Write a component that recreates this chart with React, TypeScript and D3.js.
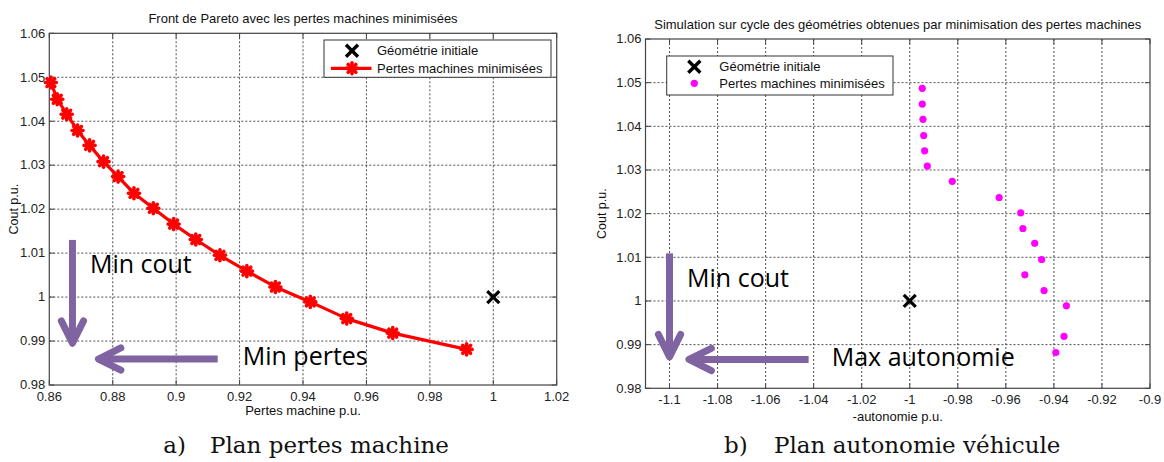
import React from "react";
import * as d3 from "d3";

// ---- Data ----
const leftX = [0.8605, 0.8625, 0.8655, 0.8689, 0.8727, 0.8771, 0.8817, 0.8867, 0.8928, 0.8992, 0.9062, 0.9138, 0.9223, 0.9313, 0.9423, 0.9538, 0.9683, 0.9916];
const leftY = [1.0488, 1.045, 1.0416, 1.0379, 1.0345, 1.0308, 1.0274, 1.0236, 1.0202, 1.0166, 1.0131, 1.0095, 1.0059, 1.0023, 0.9989, 0.9951, 0.9918, 0.9881];
const rightX = [-0.9948, -0.9948, -0.9945, -0.9942, -0.9938, -0.9927, -0.9823, -0.9628, -0.9538, -0.9529, -0.948, -0.9451, -0.9521, -0.9441, -0.9348, -0.9358, -0.9392];
const rightY = [1.0487, 1.0451, 1.0416, 1.0379, 1.0344, 1.0309, 1.0274, 1.0237, 1.0202, 1.0166, 1.0132, 1.0095, 1.006, 1.0024, 0.9989, 0.9919, 0.9882];
const initialLeft = [1.0, 1.0];
const initialRight = [-1.0, 1.0];

const leftXTicks = [0.86, 0.88, 0.9, 0.92, 0.94, 0.96, 0.98, 1, 1.02];
const rightXTicks = [-1.1, -1.08, -1.06, -1.04, -1.02, -1, -0.98, -0.96, -0.94, -0.92, -0.9];
const yTicks = [0.98, 0.99, 1, 1.01, 1.02, 1.03, 1.04, 1.05, 1.06];

const legendLabels = ["Géométrie initiale", "Pertes machines minimisées"];

// annotation arrows in data units: [x1, y1, x2(tip), y2(tip)]
const leftArrows = [
  [0.8673, 1.013, 0.8673, 0.9895],
  [0.9131, 0.9859, 0.8755, 0.9859],
];
const rightArrows = [
  [-1.1, 1.0109, -1.1, 0.9872],
  [-1.0421, 0.9866, -1.0919, 0.9866],
];
const leftNotes: [string, number, number][] = [
  ["Min cout", 0.8728, 1.0054],
  ["Min pertes", 0.921, 0.9845],
];
const rightNotes: [string, number, number][] = [
  ["Min cout", -1.0927, 1.0033],
  ["Max autonomie", -1.0325, 0.9852],
];

const SANS = "'Liberation Sans', Arial, sans-serif";
const PURPLE = "#8064A2";

function Arrow({ x1, y1, x2, y2 }: { x1: number; y1: number; x2: number; y2: number }) {
  const ang = Math.atan2(y2 - y1, x2 - x1);
  const L = 25;
  const spread = 0.46;
  const w1x = x2 - L * Math.cos(ang - spread);
  const w1y = y2 - L * Math.sin(ang - spread);
  const w2x = x2 - L * Math.cos(ang + spread);
  const w2y = y2 - L * Math.sin(ang + spread);
  return (
    <g stroke={PURPLE} strokeWidth={7} strokeLinecap="round" fill="none">
      <line x1={x1} y1={y1} x2={x2} y2={y2} strokeLinecap="butt" />
      <polyline points={`${w1x},${w1y} ${x2},${y2} ${w2x},${w2y}`} strokeLinejoin="round" />
    </g>
  );
}

function XMark({ x, y, r = 6, w = 3.2 }: { x: number; y: number; r?: number; w?: number }) {
  return (
    <g stroke="#000" strokeWidth={w}>
      <line x1={x - r} y1={y - r} x2={x + r} y2={y + r} />
      <line x1={x - r} y1={y + r} x2={x + r} y2={y - r} />
    </g>
  );
}

function Star({ x, y, r = 5.5 }: { x: number; y: number; r?: number }) {
  const d = r * 0.7071;
  return (
    <g stroke="#ff0000" strokeWidth={3.6} strokeLinecap="round">
      <line x1={x - r} y1={y} x2={x + r} y2={y} />
      <line x1={x} y1={y - r} x2={x} y2={y + r} />
      <line x1={x - d} y1={y - d} x2={x + d} y2={y + d} />
      <line x1={x - d} y1={y + d} x2={x + d} y2={y - d} />
      <circle cx={x} cy={y} r={3.5} fill="#ff0000" stroke="none" />
    </g>
  );
}

function Frame({
  x,
  y,
  xTicks,
  title,
  titleY,
  xLabel,
  xLabelY,
  yLabelX,
}: {
  x: d3.ScaleLinear<number, number>;
  y: d3.ScaleLinear<number, number>;
  xTicks: number[];
  title: string;
  titleY: number;
  xLabel: string;
  xLabelY: number;
  yLabelX: number;
}) {
  const [x0, x1] = x.range();
  const [y0, y1] = y.range(); // y0 bottom, y1 top
  const xd = x.domain();
  const yd = y.domain();
  const innerX = xTicks.filter((t) => Math.abs(t - xd[0]) > 1e-9 && Math.abs(t - xd[1]) > 1e-9);
  const innerY = yTicks.filter((t) => Math.abs(t - yd[0]) > 1e-9 && Math.abs(t - yd[1]) > 1e-9);
  const tl = 5;
  return (
    <g>
      <rect x={x0} y={y1} width={x1 - x0} height={y0 - y1} fill="#fff" />
      {innerX.map((t) => (
        <line key={"gx" + t} x1={x(t)} x2={x(t)} y1={y1} y2={y0} stroke="#222" strokeWidth={0.8} strokeDasharray="2,2" />
      ))}
      {innerY.map((t) => (
        <line key={"gy" + t} x1={x0} x2={x1} y1={y(t)} y2={y(t)} stroke="#222" strokeWidth={0.8} strokeDasharray="2,2" />
      ))}
      {xTicks.map((t) => (
        <g key={"tx" + t}>
          <line x1={x(t)} x2={x(t)} y1={y0} y2={y0 - tl} stroke="#444" strokeWidth={1} />
          <line x1={x(t)} x2={x(t)} y1={y1} y2={y1 + tl} stroke="#444" strokeWidth={1} />
          <text x={x(t)} y={y0 + 16} textAnchor="middle" fontFamily={SANS} fontSize={13} fill="#222">
            {String(t)}
          </text>
        </g>
      ))}
      {yTicks.map((t) => (
        <g key={"ty" + t}>
          <line x1={x0} x2={x0 + tl} y1={y(t)} y2={y(t)} stroke="#444" strokeWidth={1} />
          <line x1={x1} x2={x1 - tl} y1={y(t)} y2={y(t)} stroke="#444" strokeWidth={1} />
          <text x={x0 - 4} y={y(t)} dy="0.33em" textAnchor="end" fontFamily={SANS} fontSize={13} fill="#222">
            {String(t)}
          </text>
        </g>
      ))}
      <rect x={x0} y={y1} width={x1 - x0} height={y0 - y1} fill="none" stroke="#444" strokeWidth={1.2} />
      <text x={(x0 + x1) / 2} y={titleY} textAnchor="middle" fontFamily={SANS} fontSize={13} fill="#111">
        {title}
      </text>
      <text x={(x0 + x1) / 2} y={xLabelY} textAnchor="middle" fontFamily={SANS} fontSize={13} fill="#111">
        {xLabel}
      </text>
      <text
        transform={`translate(${yLabelX},${(y0 + y1) / 2}) rotate(-90)`}
        textAnchor="middle"
        fontFamily={SANS}
        fontSize={12.5}
        fill="#111"
      >
        Cout p.u.
      </text>
    </g>
  );
}

export default function App() {
  const xL = d3.scaleLinear().domain([0.86, 1.02]).range([49.3, 556.7]);
  const yL = d3.scaleLinear().domain([0.98, 1.06]).range([385, 33.3]);
  const xR = d3.scaleLinear().domain([-1.11, -0.9]).range([645.5, 1150]);
  const yR = d3.scaleLinear().domain([0.98, 1.06]).range([388.3, 39]);

  const leftPts = leftX.map((v, i) => [xL(v), yL(leftY[i])] as [number, number]);
  const linePath = d3.line()(leftPts) || "";

  return (
    <svg width={1164} height={462} style={{ position: "absolute", left: 0, top: 0, background: "#fff" }}>
      <rect width={1164} height={462} fill="#fff" />

      {/* ---------- Left panel ---------- */}
      <Frame
        x={xL}
        y={yL}
        xTicks={leftXTicks}
        title="Front de Pareto avec les pertes machines minimisées"
        titleY={23}
        xLabel="Pertes machine p.u."
        xLabelY={415}
        yLabelX={18}
      />
      <path d={linePath} fill="none" stroke="#ff0000" strokeWidth={3.2} strokeLinejoin="round" />
      {leftPts.map(([px, py], i) => (
        <Star key={"s" + i} x={px} y={py} />
      ))}
      <XMark x={xL(initialLeft[0])} y={yL(initialLeft[1])} />
      {leftArrows.map((a, i) => (
        <Arrow key={"la" + i} x1={xL(a[0])} y1={yL(a[1])} x2={xL(a[2])} y2={yL(a[3])} />
      ))}
      {leftNotes.map(([t, vx, vy]) => (
        <text key={t} x={xL(vx)} y={yL(vy)} fontFamily="'Open Sans', sans-serif" fontSize={25} fill="#000">
          {t}
        </text>
      ))}
      {/* legend left */}
      <g>
        <rect x={324} y={40} width={227} height={37.3} fill="#fff" stroke="#333" strokeWidth={1} />
        <XMark x={352} y={50.7} r={6} w={3.4} />
        <line x1={331} x2={371.5} y1={68.3} y2={68.3} stroke="#ff0000" strokeWidth={3.2} />
        <Star x={352} y={68.3} />
        <text x={377} y={55.2} fontFamily={SANS} fontSize={13} fill="#111">
          {legendLabels[0]}
        </text>
        <text x={377} y={72.8} fontFamily={SANS} fontSize={13} fill="#111">
          {legendLabels[1]}
        </text>
      </g>

      {/* ---------- Right panel ---------- */}
      <Frame
        x={xR}
        y={yR}
        xTicks={rightXTicks}
        title="Simulation sur cycle des géométries obtenues par minimisation des pertes machines"
        titleY={29}
        xLabel="-autonomie p.u."
        xLabelY={421}
        yLabelX={606}
      />
      {rightX.map((v, i) => (
        <circle key={"m" + i} cx={xR(v)} cy={yR(rightY[i])} r={3.6} fill="#ff00ff" />
      ))}
      <XMark x={xR(initialRight[0])} y={yR(initialRight[1])} />
      {rightArrows.map((a, i) => (
        <Arrow key={"ra" + i} x1={xR(a[0])} y1={yR(a[1])} x2={xR(a[2])} y2={yR(a[3])} />
      ))}
      {rightNotes.map(([t, vx, vy]) => (
        <text key={t} x={xR(vx)} y={yR(vy)} fontFamily="'Open Sans', sans-serif" fontSize={25} fill="#000">
          {t}
        </text>
      ))}
      {/* legend right */}
      <g>
        <rect x={666.7} y={56} width={226.3} height={39} fill="#fff" stroke="#333" strokeWidth={1} />
        <XMark x={694.3} y={66.7} r={6} w={3.4} />
        <circle cx={694.3} cy={83.3} r={3.6} fill="#ff00ff" />
        <text x={719.3} y={71.3} fontFamily={SANS} fontSize={13} fill="#111">
          {legendLabels[0]}
        </text>
        <text x={719.3} y={88} fontFamily={SANS} fontSize={13} fill="#111">
          {legendLabels[1]}
        </text>
      </g>

      {/* ---------- Captions ---------- */}
      <g fontFamily="'DejaVu Serif', serif" fontSize={23} fill="#111">
        <text x={163.3} y={452.7}>a)</text>
        <text x={210} y={452.7}>Plan pertes machine</text>
        <text x={724} y={452.7}>b)</text>
        <text x={774} y={452.7}>Plan autonomie véhicule</text>
      </g>
    </svg>
  );
}
